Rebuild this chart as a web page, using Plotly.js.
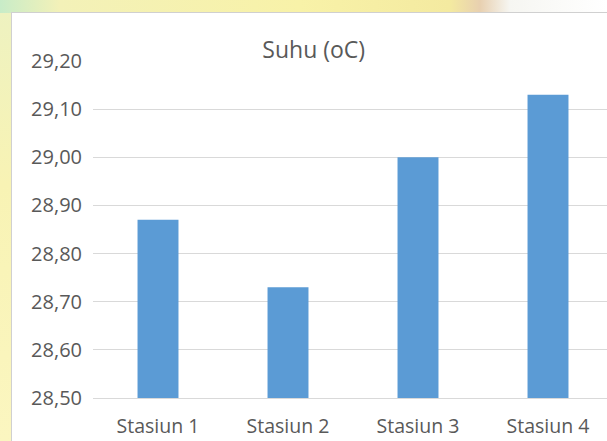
<!DOCTYPE html>
<html>
<head>
<meta charset="utf-8">
<script src="https://cdn.plot.ly/plotly-3.0.1.min.js"></script>
<style>
html,body{margin:0;padding:0;width:607px;height:441px;overflow:hidden;}
body{background:linear-gradient(90deg,#c8ecc8 0px,#f3f1b8 60px,#f8f2a8 300px,#f4eaa0 450px,#e8d0b0 480px,#f6f6f2 510px,#ffffff 607px);position:relative;}
#side{position:absolute;left:0;top:13px;width:12px;height:428px;background:linear-gradient(180deg,#eef2c0,#f8f3b4 40%,#fbf6c0);}
#chart{position:absolute;left:11px;top:12px;width:612px;height:429px;background:#fff;border-left:1px solid #d0d0d0;border-top:1px solid #d0d0d0;}
</style>
</head>
<body>
<div id="side"></div>
<div id="chart"></div>
<script>
const categories = ["Stasiun 1", "Stasiun 2", "Stasiun 3", "Stasiun 4"];
const suhu = [28.87, 28.73, 29.00, 29.13];
const yTicks = [28.5, 28.6, 28.7, 28.8, 28.9, 29.0, 29.1, 29.2];

const font = "Open Sans, Liberation Sans, sans-serif";
Plotly.newPlot("chart", [{
  type: "bar",
  x: categories,
  y: suhu,
  marker: {color: "#5b9bd5"},
  hoverinfo: "none"
}], {
  width: 612,
  height: 428,
  margin: {l: 81, r: 11, t: 48, b: 43},
  paper_bgcolor: "#ffffff",
  plot_bgcolor: "#ffffff",
  separators: ",.",
  bargap: 0.685,
  showlegend: false,
  title: {
    text: "Suhu (oC)",
    font: {family: font, size: 23, color: "#595959"},
    xref: "container", x: 0.493, xanchor: "center",
    yref: "container", y: 0.9136, yanchor: "middle"
  },
  xaxis: {
    type: "category",
    showgrid: false,
    showline: true,
    linecolor: "#d9d9d9",
    linewidth: 1,
    ticks: "",
    ticklabelstandoff: 11,
    tickfont: {family: font, size: 19.5, color: "#595959"}
  },
  yaxis: {
    range: [28.5, 29.2],
    tickvals: yTicks,
    tickformat: ".2f",
    showgrid: true,
    gridcolor: "#d9d9d9",
    gridwidth: 1,
    zeroline: false,
    showline: false,
    ticks: "",
    ticklabelstandoff: 10,
    tickfont: {family: font, size: 20, color: "#595959"}
  }
}, {displayModeBar: false, staticPlot: true});
</script>
</body>
</html>
